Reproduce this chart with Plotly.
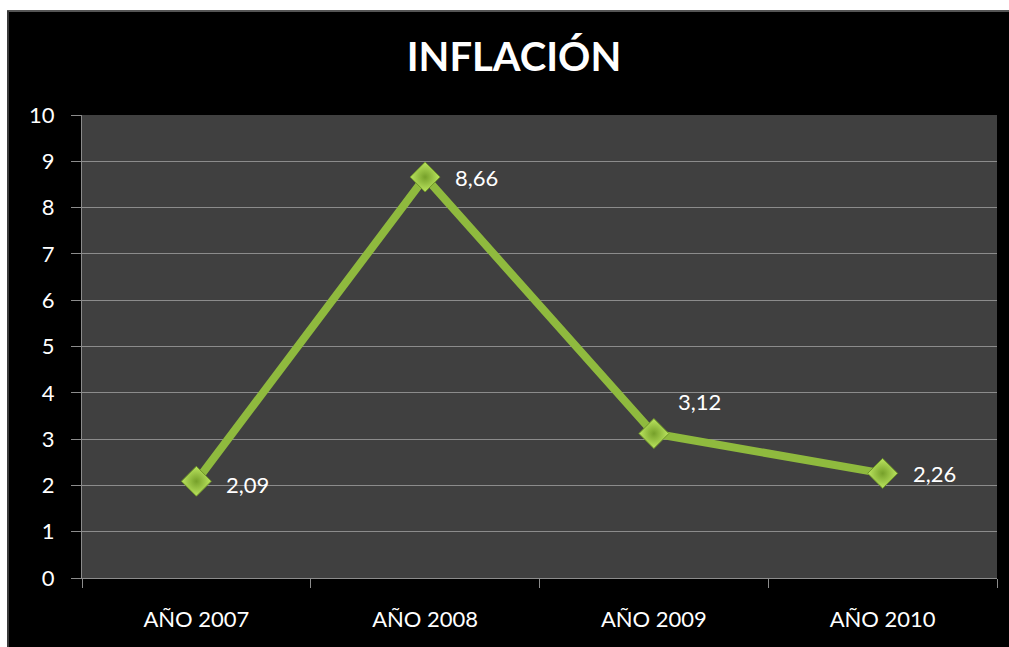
import plotly.graph_objects as go

# Inflation by year
years = ["AÑO 2007", "AÑO 2008", "AÑO 2009", "AÑO 2010"]
inflation = [2.09, 8.66, 3.12, 2.26]
# per-point label offsets (pixels) for the value labels
label_dx = [28, 28, 22, 28]
label_dy = [-3, 0, 32, 0]
y_ticks = [0, 1, 2, 3, 4, 5, 6, 7, 8, 9, 10]

W, H = 1009, 647
L, R, T, B = 82, 12, 115, 69

FONT = "Lato, 'Open Sans', sans-serif"
GRID = "#8c8c8c"

fig = go.Figure()

fig.add_trace(go.Scatter(
    x=years,
    y=inflation,
    mode="lines+markers",
    line=dict(color="#8fba3e", width=8),
    marker=dict(
        symbol="diamond",
        size=23,
        color="#bce660",
        gradient=dict(type="radial", color="#76a02a"),
        line=dict(color="#6f9628", width=1),
    ),
    cliponaxis=False,
    showlegend=False,
    hoverinfo="skip",
))

# value labels, formatted with decimal comma
for yr, v, dx, dy in zip(years, inflation, label_dx, label_dy):
    fig.add_annotation(
        x=yr, y=v, xref="x", yref="y",
        text=f"{v:.2f}".replace(".", ","),
        showarrow=False,
        xanchor="left", yanchor="middle",
        xshift=dx, yshift=dy,
        font=dict(family=FONT, size=22, color="white"),
    )

# white frame around the black chart area (top and left strips)
px_x = lambda p: (p - L) / (W - L - R)
px_y = lambda p: (H - B - p) / (H - T - B)
fig.add_shape(type="rect", xref="paper", yref="paper",
              x0=px_x(-5), x1=px_x(W + 5), y0=px_y(10), y1=px_y(-5),
              fillcolor="white", line_width=0, layer="above")
fig.add_shape(type="rect", xref="paper", yref="paper",
              x0=px_x(-5), x1=px_x(7), y0=px_y(H + 5), y1=px_y(-5),
              fillcolor="white", line_width=0, layer="above")
# soft grey edge of the chart frame
fig.add_shape(type="line", xref="paper", yref="paper",
              x0=px_x(7), x1=px_x(W + 5), y0=px_y(11), y1=px_y(11),
              line=dict(color="#555555", width=2), layer="above")
fig.add_shape(type="line", xref="paper", yref="paper",
              x0=px_x(8), x1=px_x(8), y0=px_y(H + 5), y1=px_y(11),
              line=dict(color="#3a3a3a", width=2), layer="above")

fig.update_layout(
    width=W,
    height=H,
    margin=dict(l=L, r=R, t=T, b=B),
    paper_bgcolor="black",
    plot_bgcolor="#404040",
    font=dict(family=FONT, color="white"),
    title=dict(
        text="<b>INFLACIÓN</b>",
        x=514 / W,
        xanchor="center",
        y=1 - 57 / H,
        yanchor="middle",
        font=dict(family=FONT, size=40, color="white"),
    ),
    xaxis=dict(
        type="category",
        categoryorder="array",
        categoryarray=years,
        range=[-0.5, 3.5],
        showgrid=False,
        showline=True,
        linecolor=GRID,
        linewidth=1,
        ticks="outside",
        tickson="boundaries",
        ticklen=9,
        tickcolor=GRID,
        ticklabelstandoff=22,
        tickfont=dict(family=FONT, size=22, color="white"),
        zeroline=False,
        fixedrange=True,
    ),
    yaxis=dict(
        range=[0, 10],
        tickvals=y_ticks,
        showgrid=True,
        gridcolor=GRID,
        gridwidth=1,
        showline=True,
        linecolor=GRID,
        linewidth=1,
        ticks="outside",
        ticklen=10,
        tickcolor=GRID,
        ticklabelstandoff=12,
        tickfont=dict(family=FONT, size=22, color="white"),
        zeroline=False,
        fixedrange=True,
    ),
)

fig.write_html("out.html")
